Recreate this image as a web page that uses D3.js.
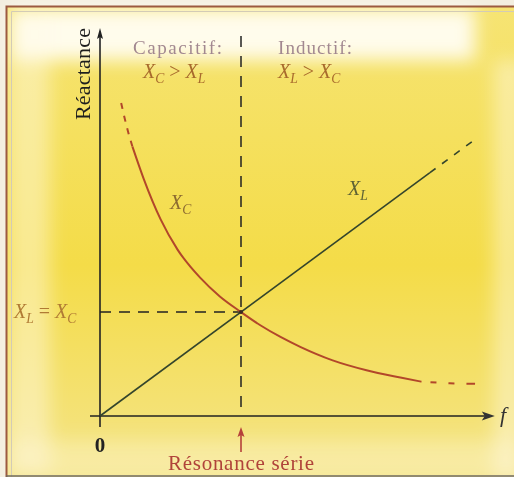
<!DOCTYPE html>
<html>
<head>
<meta charset="utf-8">
<script src="https://cdn.jsdelivr.net/npm/d3@7"></script>
<style>
  body { margin: 0; background: #f3eee0; }
  svg { display: block; }
  text { font-family: "Liberation Serif", "DejaVu Serif", serif; }
</style>
</head>
<body>
<div id="chart"></div>
<script>
let width = 514;
let height = 477;

////////////////////////////////
//   Data (f / f0 , X / X0)
////////////////////////////////
let fMax = 2.8;
let xMax = 3.73;
let fRes = 1;
let xRes = 1;

let xcDashTop = [[0.15, 3.01], [0.19, 2.78], [0.23, 2.59]];
let xcSolid = [[0.23, 2.59], [0.31, 2.28], [0.43, 1.89], [0.55, 1.60], [0.71, 1.33],
               [0.85, 1.15], [1.0, 1.0], [1.14, 0.87], [1.28, 0.76], [1.42, 0.665],
               [1.65, 0.535], [1.89, 0.44], [2.13, 0.37], [2.28, 0.33]];
let xcDashTail = [[2.28, 0.33], [2.48, 0.315], [2.66, 0.31]];
let xlSolid = [[0, 0], [2.34, 2.34]];
let xlDash = [[2.34, 2.34], [2.64, 2.64]];

let regionTitles = ["Capacitif:", "Inductif:"];
let axisTitles = ["Réactance", "f", "0"];
let resonanceLabel = "Résonance série";

////////////////////////////////
//   Setup
////////////////////////////////
let svg = d3.select("#chart").append("svg")
  .attr("width", width)
  .attr("height", height);

let defs = svg.append("defs");
defs.append("filter").attr("id", "soft")
  .attr("x", "-20%").attr("y", "-20%").attr("width", "140%").attr("height", "140%")
  .append("feGaussianBlur").attr("stdDeviation", 9);

let grad = defs.append("linearGradient").attr("id", "bg")
  .attr("x1", 0).attr("y1", 0).attr("x2", 0).attr("y2", 1);
grad.append("stop").attr("offset", "0%").attr("stop-color", "#f6e474");
grad.append("stop").attr("offset", "55%").attr("stop-color", "#f4dc48");
grad.append("stop").attr("offset", "100%").attr("stop-color", "#f4e488");

// paper + frame
svg.append("rect").attr("x", 6).attr("y", 6).attr("width", width - 6).attr("height", height - 6)
  .attr("fill", "url(#bg)");

let glow = svg.append("g").attr("filter", "url(#soft)");
glow.append("rect").attr("x", 10).attr("y", 8).attr("width", 465).attr("height", 52)
  .attr("fill", "#fffdf2").attr("opacity", 0.95);
glow.append("rect").attr("x", 8).attr("y", 8).attr("width", 42).attr("height", 465)
  .attr("fill", "#fffbe8").attr("opacity", 0.45);
glow.append("rect").attr("x", 8).attr("y", 440).attr("width", 510).attr("height", 40)
  .attr("fill", "#fff8dc").attr("opacity", 0.35);
glow.append("rect").attr("x", 494).attr("y", 60).attr("width", 30).attr("height", 420)
  .attr("fill", "#fffbe8").attr("opacity", 0.45);

svg.append("path").attr("d", "M6.5," + height + "V6.5H" + width)
  .attr("fill", "none").attr("stroke", "#9c5a40").attr("stroke-width", 2);
svg.append("path").attr("d", "M11.5," + height + "V11.5H" + width)
  .attr("fill", "none").attr("stroke", "#d3cbb6").attr("stroke-width", 1);
svg.append("line").attr("x1", 6).attr("x2", width).attr("y1", 476).attr("y2", 476)
  .attr("stroke", "#6f6a60").attr("stroke-width", 1.5);

/////////////////////////////
//   Scales
/////////////////////////////
let x = d3.scaleLinear().domain([0, fMax]).range([100, 100 + fMax * 141]);
let y = d3.scaleLinear().domain([0, xMax]).range([416, 416 - xMax * 104]);

let line = d3.line().x(d => x(d[0])).y(d => y(d[1])).curve(d3.curveMonotoneX);

/////////////////////////////
//   Axes
/////////////////////////////
let ink = "#222";
svg.append("line").attr("x1", x(0)).attr("x2", x(0)).attr("y1", y(0) + 11).attr("y2", y(xMax) + 4)
  .attr("stroke", ink).attr("stroke-width", 1.6);
svg.append("path")
  .attr("d", "M" + x(0) + "," + y(xMax) + "l-3,11l3,-2l3,2z")
  .attr("fill", ink);

svg.append("line").attr("x1", x(0) - 10).attr("x2", x(fMax) - 6).attr("y1", y(0)).attr("y2", y(0))
  .attr("stroke", ink).attr("stroke-width", 1.6);
svg.append("path")
  .attr("d", "M" + x(fMax) + "," + y(0) + "l-13,-4.5l3,4.5l-3,4.5z")
  .attr("fill", "#333");

// resonance guides
svg.append("line")
  .attr("x1", x(fRes)).attr("x2", x(fRes)).attr("y1", 36).attr("y2", y(0))
  .attr("stroke", ink).attr("stroke-width", 1.5).attr("stroke-dasharray", "11,9");
svg.append("line")
  .attr("x1", x(0)).attr("x2", x(fRes)).attr("y1", y(xRes)).attr("y2", y(xRes))
  .attr("stroke", ink).attr("stroke-width", 1.4).attr("stroke-dasharray", "11,8");

///////////////////////////
//   Curves
///////////////////////////
let green = "#34452c";
let red = "#b2472a";

svg.append("path").datum(xlSolid).attr("d", line)
  .attr("fill", "none").attr("stroke", green).attr("stroke-width", 1.6);
svg.append("path").datum(xlDash).attr("d", line)
  .attr("fill", "none").attr("stroke", green).attr("stroke-width", 1.6).attr("stroke-dasharray", "7,8");

svg.append("path").datum(xcSolid).attr("d", line)
  .attr("fill", "none").attr("stroke", red).attr("stroke-width", 2);
svg.append("path").datum(xcDashTop).attr("d", line)
  .attr("fill", "none").attr("stroke", red).attr("stroke-width", 2).attr("stroke-dasharray", "6,7");
svg.append("path").datum(xcDashTail).attr("d", line)
  .attr("fill", "none").attr("stroke", red).attr("stroke-width", 2).attr("stroke-dasharray", "0,9,6,12,6,12,6");

svg.append("circle").attr("cx", x(fRes)).attr("cy", y(xRes)).attr("r", 2).attr("fill", "#3a2a20");

////////////////////
//   Labels
////////////////////
function reactLabel(px, py, parts, size, color) {
  let t = svg.append("text").attr("x", px).attr("y", py)
    .attr("font-size", size).attr("fill", color);
  parts.forEach(function(p) {
    let s = t.append("tspan").text(p.t);
    if (p.italic) s.attr("font-style", "italic");
    if (p.sub) s.attr("font-size", size * 0.68).attr("dy", size * 0.25);
    if (p.up) s.attr("dy", -size * 0.25);
  });
  return t;
}

svg.append("text")
  .attr("transform", "translate(90," + 120 + ") rotate(-90)")
  .attr("font-size", 22).attr("fill", "#1e1e1e")
  .attr("textLength", 92).attr("lengthAdjust", "spacing")
  .text(axisTitles[0]);

svg.append("text").attr("x", 133).attr("y", 54)
  .attr("font-size", 19).attr("fill", "#a28890")
  .attr("textLength", 89).attr("lengthAdjust", "spacing")
  .text(regionTitles[0]);
svg.append("text").attr("x", 278).attr("y", 54)
  .attr("font-size", 19).attr("fill", "#a28890")
  .attr("textLength", 74).attr("lengthAdjust", "spacing")
  .text(regionTitles[1]);

let ochre = "#a86a2c";
reactLabel(143, 78, [
  {t: "X", italic: true}, {t: "C", italic: true, sub: true},
  {t: " > ", up: true}, {t: "X", italic: true}, {t: "L", italic: true, sub: true}
], 20, ochre);
reactLabel(278, 78, [
  {t: "X", italic: true}, {t: "L", italic: true, sub: true},
  {t: " > ", up: true}, {t: "X", italic: true}, {t: "C", italic: true, sub: true}
], 20, ochre);

reactLabel(14, 318, [
  {t: "X", italic: true}, {t: "L", italic: true, sub: true},
  {t: " = ", up: true}, {t: "X", italic: true}, {t: "C", italic: true, sub: true}
], 20, "#b07a34");

reactLabel(170, 209, [{t: "X", italic: true}, {t: "C", italic: true, sub: true}], 20, "#8c6a30");
reactLabel(348, 195, [{t: "X", italic: true}, {t: "L", italic: true, sub: true}], 20, "#5e6234");

svg.append("text").attr("x", x(0)).attr("y", 452).attr("text-anchor", "middle")
  .attr("font-size", 21).attr("font-weight", "bold").attr("fill", "#222")
  .text(axisTitles[2]);
svg.append("text").attr("x", 500).attr("y", 422)
  .attr("font-size", 22).attr("font-style", "italic").attr("fill", "#333")
  .text(axisTitles[1]);

// resonance marker
svg.append("line").attr("x1", x(fRes)).attr("x2", x(fRes)).attr("y1", 452).attr("y2", 434)
  .attr("stroke", "#b5413a").attr("stroke-width", 1.6);
svg.append("path").attr("d", "M" + x(fRes) + ",427l-3.5,10l3.5,-2l3.5,2z").attr("fill", "#b5413a");
svg.append("text").attr("x", x(fRes)).attr("y", 470).attr("text-anchor", "middle")
  .attr("font-size", 21).attr("fill", "#b0433a")
  .attr("textLength", 146).attr("lengthAdjust", "spacing")
  .text(resonanceLabel);
</script>
</body>
</html>
